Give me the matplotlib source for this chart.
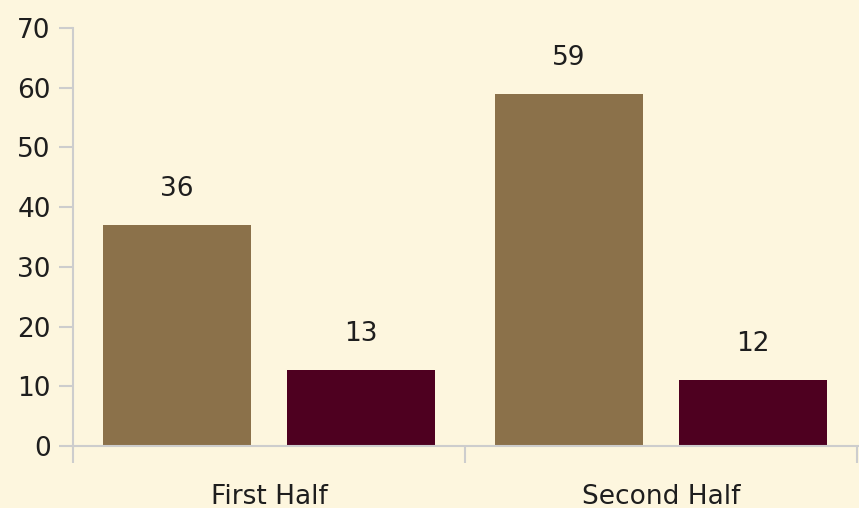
import matplotlib.pyplot as plt
import numpy as np

categories = ['First Half', 'Second Half']
brown_vals = [37, 59]
maroon_vals = [12.7, 11]
brown_labels = ['36', '59']
maroon_labels = ['13', '12']

bg = '#FDF6DE'
brown = '#8B714A'
maroon = '#4E0020'
axcol = '#CDCDCD'
txt = '#1E1E1E'

fig = plt.figure(figsize=(8.59, 5.08), dpi=100, facecolor=bg)
ax = fig.add_axes([73/859, 1-446/508, 786/859, 418/508], facecolor=bg)

x = np.arange(len(categories))
off = 0.235
w = 0.378
b1 = ax.bar(x - off, brown_vals, w, color=brown)
b2 = ax.bar(x + off, maroon_vals, w, color=maroon)

for bars, labs in [(b1, brown_labels), (b2, maroon_labels)]:
    for b, t in zip(bars, labs):
        ax.annotate(t, (b.get_x() + b.get_width()/2, b.get_height()),
                    xytext=(0, 26), textcoords='offset points',
                    ha='center', va='center', fontsize=19, color=txt)

ax.set_xlim(-0.5, 1.5 + 2/392)
ax.set_ylim(0, 70)
ax.set_yticks(range(0, 71, 10))
ax.set_xticks(x)
ax.set_xticklabels(categories)
ax.set_xticks([-0.5, 0.5, 1.5], minor=True)

for s in ['top', 'right']:
    ax.spines[s].set_visible(False)
for s in ['left', 'bottom']:
    ax.spines[s].set_color(axcol)
    ax.spines[s].set_linewidth(1.5)
ax.spines['left'].set_bounds(0, 70)

ax.tick_params(axis='y', length=10, width=1.5, color=axcol, pad=6,
               labelsize=19, labelcolor=txt)
ax.tick_params(axis='x', which='major', length=0, pad=27,
               labelsize=19, labelcolor=txt)
ax.tick_params(axis='x', which='minor', length=12, width=1.5, color=axcol)

fig.savefig('out.png', dpi=100, facecolor=bg)
